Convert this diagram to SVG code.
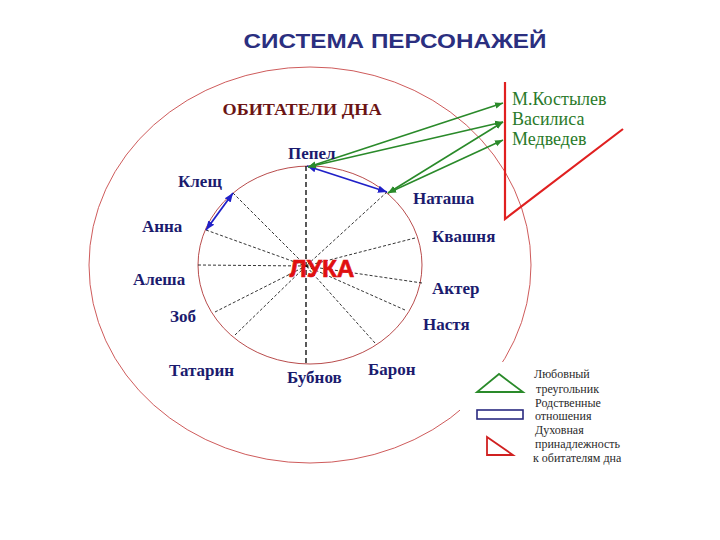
<svg xmlns="http://www.w3.org/2000/svg" width="720" height="540" viewBox="0 0 720 540">
<style>
.lbl{font-family:"Liberation Serif","Times New Roman",serif;font-weight:bold;font-size:17px;fill:#1b1b6e}
.grn{font-family:"Liberation Serif","Times New Roman",serif;font-size:18px;fill:#2a7a2a}
.leg{font-family:"Liberation Serif","Times New Roman",serif;font-size:12px;fill:#2a2a2a}
.spoke{stroke:#000;stroke-width:0.8;stroke-dasharray:3 2;fill:none}
.garr{stroke:#2a8a2a;stroke-width:1.6;fill:none;marker-start:url(#ag);marker-end:url(#ag)}
.barr{stroke:#2020c8;stroke-width:1.8;fill:none;marker-start:url(#ab);marker-end:url(#ab)}
</style>
<defs>
<marker id="ag" viewBox="0 0 10 10" refX="10" refY="5" markerWidth="5" markerHeight="5" orient="auto-start-reverse"><path d="M0,1 L10,5 L0,9 z" fill="#2a8a2a"/></marker>
<marker id="ab" viewBox="0 0 10 10" refX="10" refY="5" markerWidth="5" markerHeight="5" orient="auto-start-reverse"><path d="M0,1 L10,5 L0,9 z" fill="#2020c8"/></marker>
</defs>
<rect width="720" height="540" fill="#fff"/>
<text x="395" y="48" text-anchor="middle" font-family="Liberation Sans,Arial,sans-serif" font-weight="bold" font-size="21" fill="#2b2f80" textLength="303" lengthAdjust="spacingAndGlyphs">СИСТЕМА ПЕРСОНАЖЕЙ</text>
<g id="outer"><ellipse cx="310" cy="265" rx="221" ry="198" fill="none" stroke="#c84848" stroke-width="0.9"/></g>
<g id="legend">
<rect x="460" y="362" width="200" height="110" fill="#fff"/>
<polygon points="499,374 477,392 523,392" fill="none" stroke="#2a8a2a" stroke-width="1.8"/>
<rect x="477" y="410" width="46" height="9" fill="none" stroke="#2a2a80" stroke-width="1.6"/>
<polygon points="487,437 487,455 513,455" fill="none" stroke="#d02020" stroke-width="1.8"/>
<text class="leg" x="534" y="378">Любовный</text>
<text class="leg" x="536" y="393">треугольник</text>
<text class="leg" x="535" y="407">Родственные</text>
<text class="leg" x="535" y="420">отношения</text>
<text class="leg" x="535" y="434">Духовная</text>
<text class="leg" x="535" y="448">принадлежность</text>
<text class="leg" x="533" y="462">к обитателям дна</text>
</g>
<g id="inner"><ellipse cx="310" cy="265" rx="112" ry="99" fill="none" stroke="#b03838" stroke-width="0.9"/></g>
<g id="connectors">
<line x1="306" y1="166" x2="306" y2="364" stroke="#000" stroke-width="1.3" stroke-dasharray="5 3"/>
<line class="spoke" x1="233" y1="193" x2="306" y2="266"/>
<line class="spoke" x1="206" y1="230" x2="306" y2="266"/>
<line class="spoke" x1="198" y1="265" x2="306" y2="266"/>
<line class="spoke" x1="215" y1="312" x2="306" y2="266"/>
<line class="spoke" x1="235" y1="335" x2="306" y2="266"/>
<line class="spoke" x1="375" y1="343" x2="306" y2="266"/>
<line class="spoke" x1="405" y1="310" x2="306" y2="266"/>
<line class="spoke" x1="422" y1="283" x2="306" y2="266"/>
<line class="spoke" x1="415" y1="238" x2="306" y2="266"/>
<line class="spoke" x1="387" y1="192" x2="306" y2="266"/>
<line class="barr" x1="307" y1="166" x2="387" y2="192"/>
<line class="barr" x1="233" y1="193" x2="206" y2="230" stroke="#4a3ad0"/>
<line class="garr" x1="308" y1="167" x2="503" y2="103"/>
<line class="garr" x1="308" y1="167" x2="503" y2="122"/>
<line class="garr" x1="388" y1="193" x2="503" y2="122"/>
<line class="garr" x1="388" y1="193" x2="503" y2="140"/>
<polyline points="505,82 505,219 623,129" fill="none" stroke="#e02020" stroke-width="2.2"/>
</g>
<text x="302" y="115" text-anchor="middle" font-family="Liberation Serif,Times New Roman,serif" font-weight="bold" font-size="16.5" fill="#6b1414" textLength="159" lengthAdjust="spacingAndGlyphs">ОБИТАТЕЛИ  ДНА</text>
<g id="luka"><text x="322" y="277" text-anchor="middle" font-family="Liberation Sans,Arial,sans-serif" font-weight="bold" font-size="24.5" fill="#e01010" stroke="#e01010" stroke-width="0.6">ЛУКА</text></g>
<g id="kostylev"><text class="grn" x="512" y="105">М.Костылев</text></g>
<g id="vasilisa"><text class="grn" x="512" y="125">Василиса</text></g>
<g id="medvedev"><text class="grn" x="512" y="145">Медведев</text></g>
<g id="pepel"><text class="lbl" x="288" y="159">Пепел</text></g>
<g id="klesh"><text class="lbl" x="178" y="187">Клещ</text></g>
<g id="anna"><text class="lbl" x="142" y="232">Анна</text></g>
<g id="alesha"><text class="lbl" x="133" y="285">Алеша</text></g>
<g id="zob"><text class="lbl" x="170" y="322">Зоб</text></g>
<g id="tatarin"><text class="lbl" x="169" y="376">Татарин</text></g>
<g id="bubnov"><text class="lbl" x="287" y="383">Бубнов</text></g>
<g id="baron"><text class="lbl" x="368" y="375">Барон</text></g>
<g id="nastya"><text class="lbl" x="423" y="330">Настя</text></g>
<g id="akter"><text class="lbl" x="432" y="294">Актер</text></g>
<g id="kvashnya"><text class="lbl" x="432" y="242">Квашня</text></g>
<g id="natasha"><text class="lbl" x="413" y="204">Наташа</text></g>
</svg>
